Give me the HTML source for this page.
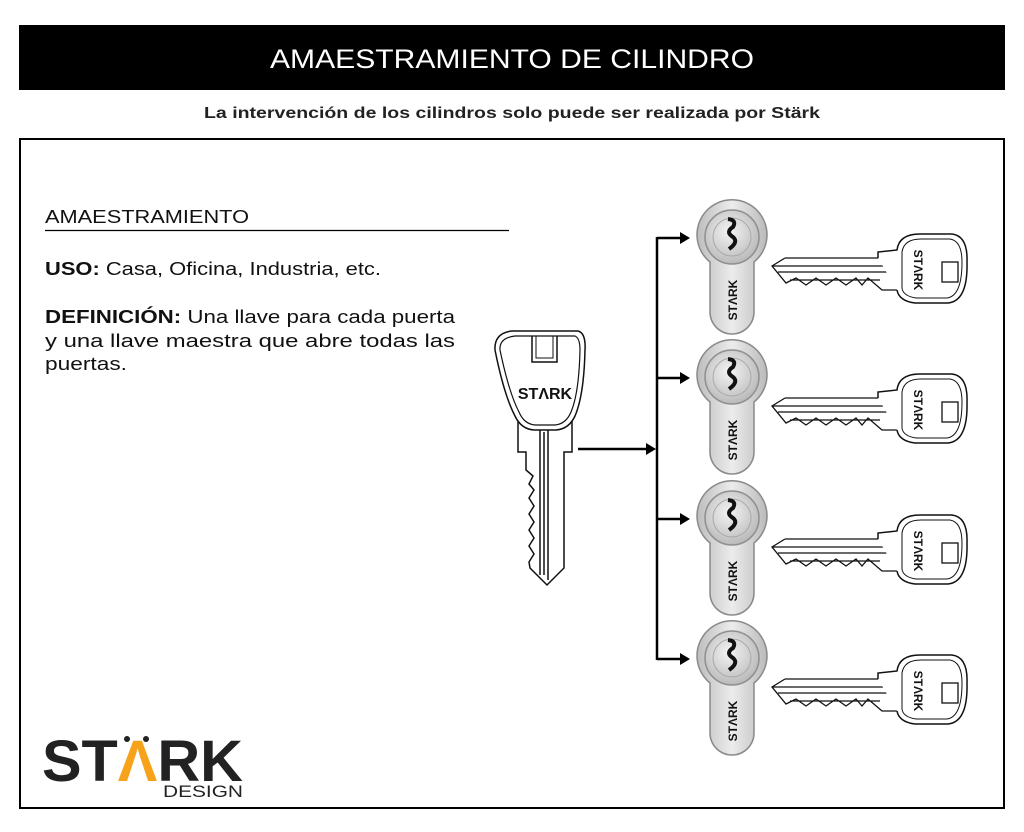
<!DOCTYPE html>
<html><head><meta charset="utf-8"><style>
html,body{margin:0;padding:0;background:#fff;}
body{width:1024px;height:832px;position:relative;overflow:hidden;font-family:"Liberation Sans",sans-serif;color:#111;}
.bar{position:absolute;left:19px;top:25px;width:986px;height:65px;background:#000;}
.panel{position:absolute;left:19px;top:138px;width:982px;height:667px;border:2px solid #000;}
</style></head><body>
<div class="bar"></div>
<div class="panel"></div>
<svg width="1024" height="832" style="position:absolute;left:0;top:0" xmlns="http://www.w3.org/2000/svg" font-family="Liberation Sans,sans-serif">
<defs>
<radialGradient id="cg" cx="45%" cy="40%" r="65%"><stop offset="0" stop-color="#f4f4f4"/><stop offset="1" stop-color="#b5b5b5"/></radialGradient>
<linearGradient id="bg" x1="0" x2="1"><stop offset="0" stop-color="#bdbdbd"/><stop offset="0.5" stop-color="#ececec"/><stop offset="1" stop-color="#bababa"/></linearGradient>
</defs>
<text x="270" y="68" font-size="27" fill="#fff" textLength="484" lengthAdjust="spacingAndGlyphs">AMAESTRAMIENTO DE CILINDRO</text>
<text x="204" y="118" font-size="16" font-weight="bold" fill="#222" textLength="616" lengthAdjust="spacingAndGlyphs">La intervención de los cilindros solo puede ser realizada por Stärk</text>
<g font-size="18.5" fill="#111">
<text x="45" y="223" textLength="204" lengthAdjust="spacingAndGlyphs">AMAESTRAMIENTO</text>
<text x="45" y="275" textLength="336" lengthAdjust="spacingAndGlyphs"><tspan font-weight="bold">USO:</tspan> Casa, Oficina, Industria, etc.</text>
<text x="45" y="323" textLength="410" lengthAdjust="spacingAndGlyphs"><tspan font-weight="bold">DEFINICIÓN:</tspan> Una llave para cada puerta</text>
<text x="45" y="347" textLength="410" lengthAdjust="spacingAndGlyphs">y una llave maestra que abre todas las</text>
<text x="45" y="370" textLength="82" lengthAdjust="spacingAndGlyphs">puertas.</text>
</g>
<line x1="45" y1="230.5" x2="509" y2="230.5" stroke="#000" stroke-width="1.2"/>
<!-- connectors -->
<g stroke="#000" stroke-width="2.5" fill="none">
<line x1="578" y1="449" x2="648" y2="449"/>
<line x1="657" y1="237" x2="657" y2="660"/>
<line x1="657" y1="238" x2="682" y2="238"/>
<line x1="657" y1="378" x2="682" y2="378"/>
<line x1="657" y1="519" x2="682" y2="519"/>
<line x1="657" y1="659" x2="682" y2="659"/>
</g>
<g fill="#000">
<polygon points="656,449 646,443 646,455"/>
<polygon points="690,238 680,232 680,244"/>
<polygon points="690,378 680,372 680,384"/>
<polygon points="690,519 680,513 680,525"/>
<polygon points="690,659 680,653 680,665"/>
</g>
<!-- master key -->
<g stroke="#111" stroke-width="1.5" fill="#fff">
<path d="M518,420 L518,452 L526,452 L526,470 L533,476 L529,484 L534,490 L529,498 L534,506 L529,514 L534,522 L529,530 L534,538 L529,546 L534,554 L529,562 L530,568 L547,585 L564,568 L564,452 L572,452 L572,420 Z"/>
<path d="M512,331 L578,331 Q586,333 585,350 Q584,395 575,416 Q569,429 556,430 L534,430 Q521,429 515,416 Q504,395 495,350 Q494,333 512,331 Z"/>
<path d="M515,336 L575,336 Q580,338 580,350 Q579,393 571,412 Q566,424 555,425 L535,425 Q524,424 519,412 Q509,393 500,350 Q499,338 515,336 Z" fill="none" stroke-width="1.2"/>
<path d="M532,336 L532,362 L557,362 L557,336" fill="none"/>
<path d="M536,336 L536,358 L553,358 L553,336" fill="none" stroke-width="1"/>
<path d="M540,430 L540,575 M548,430 L548,580 M544,432 L544,575" fill="none"/>
</g>
<text x="545" y="399" text-anchor="middle" font-size="16" font-weight="bold" fill="#111">STΛRK</text>

<!-- cylinders and keys -->
<g>
<path d="M710,262 A35,35 0 1 1 754,262 L754,312 A22,22 0 0 1 710,312 Z" fill="url(#bg)" stroke="#8a8a8a" stroke-width="1.5"/>
<circle cx="732" cy="237" r="27" fill="url(#cg)" stroke="#8f8f8f" stroke-width="1.5"/>
<circle cx="732" cy="237" r="19" fill="none" stroke="#a8a8a8" stroke-width="1"/>
<path d="M728,219 q9,1 5,8 q-8,5 0,10 q6,5 -4,12" fill="none" stroke="#111" stroke-width="4"/>
<text transform="translate(737,300) rotate(-90)" text-anchor="middle" font-size="12" font-weight="bold" fill="#111">STΛRK</text>
<path d="M785,258 L895,258 M785,258 L772,266 L786,283 L796,278 L806,285 L816,278 L826,285 L836,278 L846,285 L856,278 L862,285 L868,278 L882,290 L897,290 M772,266 L893,266 M778,272 L897,272 M790,280 L880,280" fill="none" stroke="#111" stroke-width="1.3"/>
<path d="M878,258 L878,252 L897,250 Q899,234 920,234 L952,234 Q968,236 967,262 Q968,301 948,303 L915,303 Q899,301 897,290" fill="#fff" stroke="#111" stroke-width="1.5"/>
<path d="M902,252 Q904,239 921,239 L950,239 Q962,241 962,262 Q962,296 947,298 L916,298 Q903,296 902,288 Z" fill="none" stroke="#111" stroke-width="1"/>
<rect x="942" y="262" width="16" height="20" fill="#fff" stroke="#111" stroke-width="1.3"/>
<text transform="translate(914,270) rotate(90)" text-anchor="middle" font-size="12" font-weight="bold" fill="#111">STΛRK</text>
</g>
<g transform="translate(0,140)">
<path d="M710,262 A35,35 0 1 1 754,262 L754,312 A22,22 0 0 1 710,312 Z" fill="url(#bg)" stroke="#8a8a8a" stroke-width="1.5"/>
<circle cx="732" cy="237" r="27" fill="url(#cg)" stroke="#8f8f8f" stroke-width="1.5"/>
<circle cx="732" cy="237" r="19" fill="none" stroke="#a8a8a8" stroke-width="1"/>
<path d="M728,219 q9,1 5,8 q-8,5 0,10 q6,5 -4,12" fill="none" stroke="#111" stroke-width="4"/>
<text transform="translate(737,300) rotate(-90)" text-anchor="middle" font-size="12" font-weight="bold" fill="#111">STΛRK</text>
<path d="M785,258 L895,258 M785,258 L772,266 L786,283 L796,278 L806,285 L816,278 L826,285 L836,278 L846,285 L856,278 L862,285 L868,278 L882,290 L897,290 M772,266 L893,266 M778,272 L897,272 M790,280 L880,280" fill="none" stroke="#111" stroke-width="1.3"/>
<path d="M878,258 L878,252 L897,250 Q899,234 920,234 L952,234 Q968,236 967,262 Q968,301 948,303 L915,303 Q899,301 897,290" fill="#fff" stroke="#111" stroke-width="1.5"/>
<path d="M902,252 Q904,239 921,239 L950,239 Q962,241 962,262 Q962,296 947,298 L916,298 Q903,296 902,288 Z" fill="none" stroke="#111" stroke-width="1"/>
<rect x="942" y="262" width="16" height="20" fill="#fff" stroke="#111" stroke-width="1.3"/>
<text transform="translate(914,270) rotate(90)" text-anchor="middle" font-size="12" font-weight="bold" fill="#111">STΛRK</text>
</g>
<g transform="translate(0,281)">
<path d="M710,262 A35,35 0 1 1 754,262 L754,312 A22,22 0 0 1 710,312 Z" fill="url(#bg)" stroke="#8a8a8a" stroke-width="1.5"/>
<circle cx="732" cy="237" r="27" fill="url(#cg)" stroke="#8f8f8f" stroke-width="1.5"/>
<circle cx="732" cy="237" r="19" fill="none" stroke="#a8a8a8" stroke-width="1"/>
<path d="M728,219 q9,1 5,8 q-8,5 0,10 q6,5 -4,12" fill="none" stroke="#111" stroke-width="4"/>
<text transform="translate(737,300) rotate(-90)" text-anchor="middle" font-size="12" font-weight="bold" fill="#111">STΛRK</text>
<path d="M785,258 L895,258 M785,258 L772,266 L786,283 L796,278 L806,285 L816,278 L826,285 L836,278 L846,285 L856,278 L862,285 L868,278 L882,290 L897,290 M772,266 L893,266 M778,272 L897,272 M790,280 L880,280" fill="none" stroke="#111" stroke-width="1.3"/>
<path d="M878,258 L878,252 L897,250 Q899,234 920,234 L952,234 Q968,236 967,262 Q968,301 948,303 L915,303 Q899,301 897,290" fill="#fff" stroke="#111" stroke-width="1.5"/>
<path d="M902,252 Q904,239 921,239 L950,239 Q962,241 962,262 Q962,296 947,298 L916,298 Q903,296 902,288 Z" fill="none" stroke="#111" stroke-width="1"/>
<rect x="942" y="262" width="16" height="20" fill="#fff" stroke="#111" stroke-width="1.3"/>
<text transform="translate(914,270) rotate(90)" text-anchor="middle" font-size="12" font-weight="bold" fill="#111">STΛRK</text>
</g>
<g transform="translate(0,421)">
<path d="M710,262 A35,35 0 1 1 754,262 L754,312 A22,22 0 0 1 710,312 Z" fill="url(#bg)" stroke="#8a8a8a" stroke-width="1.5"/>
<circle cx="732" cy="237" r="27" fill="url(#cg)" stroke="#8f8f8f" stroke-width="1.5"/>
<circle cx="732" cy="237" r="19" fill="none" stroke="#a8a8a8" stroke-width="1"/>
<path d="M728,219 q9,1 5,8 q-8,5 0,10 q6,5 -4,12" fill="none" stroke="#111" stroke-width="4"/>
<text transform="translate(737,300) rotate(-90)" text-anchor="middle" font-size="12" font-weight="bold" fill="#111">STΛRK</text>
<path d="M785,258 L895,258 M785,258 L772,266 L786,283 L796,278 L806,285 L816,278 L826,285 L836,278 L846,285 L856,278 L862,285 L868,278 L882,290 L897,290 M772,266 L893,266 M778,272 L897,272 M790,280 L880,280" fill="none" stroke="#111" stroke-width="1.3"/>
<path d="M878,258 L878,252 L897,250 Q899,234 920,234 L952,234 Q968,236 967,262 Q968,301 948,303 L915,303 Q899,301 897,290" fill="#fff" stroke="#111" stroke-width="1.5"/>
<path d="M902,252 Q904,239 921,239 L950,239 Q962,241 962,262 Q962,296 947,298 L916,298 Q903,296 902,288 Z" fill="none" stroke="#111" stroke-width="1"/>
<rect x="942" y="262" width="16" height="20" fill="#fff" stroke="#111" stroke-width="1.3"/>
<text transform="translate(914,270) rotate(90)" text-anchor="middle" font-size="12" font-weight="bold" fill="#111">STΛRK</text>
</g>

<!-- logo -->
<text x="42" y="781" font-size="58" font-weight="bold" fill="#222" textLength="201" lengthAdjust="spacingAndGlyphs">ST<tspan fill="#f7a21b">Λ</tspan>RK</text>
<circle cx="127" cy="739" r="3" fill="#222"/><circle cx="146" cy="739" r="3" fill="#222"/>
<text x="163" y="797" font-size="17" fill="#222" textLength="80" lengthAdjust="spacingAndGlyphs">DESIGN</text>
</svg>
</body></html>
